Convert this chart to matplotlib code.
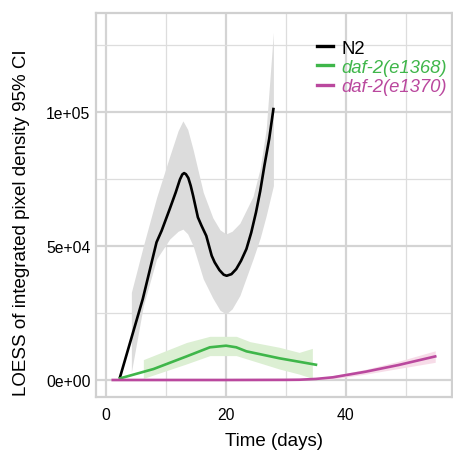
import matplotlib
matplotlib.use('Agg')
from matplotlib import pyplot as plt

plt.rcParams['font.family'] = ['Liberation Sans', 'DejaVu Sans']

# LOESS fits per strain (day, fitted value)
n2_day = [2.3, 6.1, 8.4, 9.25, 10.6, 11.6, 12.3, 12.7, 13.0, 13.3, 13.7, 14.1, 14.5, 15.3,
          15.9, 16.7, 17.6, 18.1, 18.9, 19.6, 20.1, 20.9, 21.7, 22.5, 23.4, 24.2, 25.0,
          25.7, 26.4, 27.2, 27.9]
n2_fit = [1000, 30200, 51400, 55700, 63800, 70000, 74800, 76700, 77200, 76800, 75400, 72500,
          68800, 60700, 57600, 53800, 46400, 43900, 41000, 39300, 38900, 39500, 41400, 44500,
          48900, 55000, 62600, 70500, 80000, 90000, 101100]

n2_ci_day = [4.2, 6.2, 8.4, 10.6, 12.0, 12.8, 13.6, 14.5, 16.2, 17.8, 19.0, 20.0, 21.0,
             22.3, 24.5, 25.7, 26.7, 27.9]
n2_ci_hi = [32700, 50000, 68000, 83500, 93000, 96700, 93500, 86000, 70000, 60500, 56000, 54500,
            55500, 58500, 68500, 79000, 93600, 129700]
n2_ci_lo = [2900, 27700, 45100, 52600, 55500, 56300, 54500, 50100, 37700, 30500, 26000, 24600,
            26500, 31500, 45100, 53000, 61300, 72500]

e1368_day = [2.3, 7.9, 13.4, 17.3, 20.0, 21.7, 23.4, 28.9, 35.0]
e1368_fit = [600, 4100, 8800, 12200, 12800, 12200, 10700, 8100, 5700]

e1368_ci_day = [6.2, 13.4, 17.3, 21.7, 24.0, 28.9, 32.2, 34.4]
e1368_ci_hi = [7600, 14000, 16300, 16300, 14300, 12200, 10300, 11800]
e1368_ci_lo = [600, 6000, 9100, 9100, 7500, 4100, 2200, 600]

e1370_day = [1.1, 10, 20, 30, 32.2, 35, 37.8, 43.3, 48.8, 54.9]
e1370_fit = [0, 0, 0, 50, 100, 400, 1000, 3100, 5600, 8800]

e1370_ci_day = [35, 37.8, 43.3, 48.8, 54.9]
e1370_ci_hi = [600, 1600, 4000, 7000, 10900]
e1370_ci_lo = [200, 400, 2200, 4300, 6600]

col_n2 = 'black'
col_1368 = '#3FB64A'
col_1370 = '#BA489E'

fig = plt.figure(figsize=(4.53, 4.56), dpi=100)
ax = fig.add_axes([96 / 453, 1 - 398 / 456, 356 / 453, 384 / 456])

ax.fill_between(n2_ci_day, n2_ci_lo, n2_ci_hi, color='#DCDCDC', lw=0, zorder=2)
ax.fill_between(e1368_ci_day, e1368_ci_lo, e1368_ci_hi, color='#DCEFD3', lw=0, zorder=2)
ax.fill_between(e1370_ci_day, e1370_ci_lo, e1370_ci_hi, color='#F7DCE8', lw=0, zorder=2)

ax.plot(n2_day, n2_fit, color=col_n2, lw=1.9, label='N2', zorder=3, solid_joinstyle='round')
ax.plot(e1368_day, e1368_fit, color=col_1368, lw=1.9, label='daf-2(e1368)', zorder=4)
ax.plot(e1370_day, e1370_fit, color=col_1370, lw=1.9, label='daf-2(e1370)', zorder=5)

ax.set_xlim(-1.7, 57.7)
ax.set_ylim(-6343, 136940)
ax.set_xticks([0, 20, 40])
ax.set_xticks([10, 30, 50], minor=True)
ax.set_yticks([0, 50000, 100000])
ax.set_yticklabels(['0e+00', '5e+04', '1e+05'])
ax.set_yticks([25000, 75000, 125000], minor=True)
ax.tick_params(which='both', length=0, labelsize=11.3, labelcolor='black')
ax.tick_params(axis='x', pad=7)
ax.tick_params(axis='y', pad=4)

ax.grid(which='major', color='#D4D4D4', lw=1.6, zorder=0)
ax.grid(which='minor', color='#DDDDDD', lw=0.9, zorder=0)
ax.set_axisbelow(True)
for s in ax.spines.values():
    s.set_color('#D0D0D0')
    s.set_linewidth(1.6)

ax.set_xlabel('Time (days)', fontsize=13.5)
ax.xaxis.set_label_coords(0.5, -0.090)
ax.set_ylabel('LOESS of integrated pixel density 95% CI', fontsize=13.5)
ax.yaxis.set_label_coords(-0.185, 0.457)

leg = ax.legend(loc='upper left', bbox_to_anchor=(0.6, 0.95), frameon=False,
                fontsize=13.3, handlelength=0.85, handletextpad=0.45,
                labelspacing=0.12, borderaxespad=0)
for t, c in zip(leg.get_texts(), [col_n2, col_1368, col_1370]):
    t.set_color(c)
for t in leg.get_texts()[1:]:
    t.set_style('italic')
for h in leg.get_lines():
    h.set_linewidth(2.4)

fig.savefig('out.png', dpi=100)
